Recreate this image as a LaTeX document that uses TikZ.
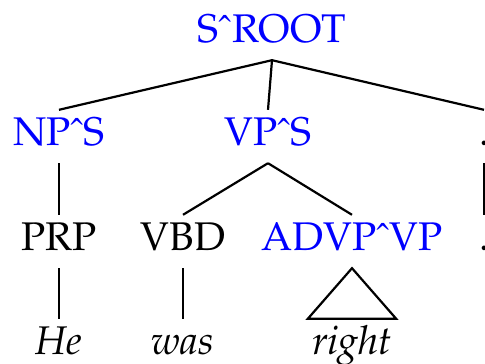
\documentclass[tikz,border=0pt]{standalone}
\usepackage[T1]{fontenc}
\usepackage{mathpazo}

\tikzset{
  tag/.style={anchor=base, text height=28pt, text depth=9pt, inner ysep=8pt, inner xsep=4pt,
    font=\fontsize{40}{48}\selectfont},
  phrase/.style={tag, text=blue},
  word/.style={tag, font=\fontsize{40}{48}\selectfont\itshape},
  branch/.style={line width=2.2pt}
}

\begin{document}
\begin{tikzpicture}[x=1pt, y=1pt]
		% Marco de la imagen (recorta la rama derecha)
		\clip (0,0) rectangle (485,364);
		
		% Raiz
		\node[phrase] (sroot) at (272,321) {S\^{}ROOT};
		
		% Primer nivel
		\node[phrase] (nps) at (59,218) {NP\^{}S};
		\node[phrase] (vps) at (268,218) {VP\^{}S};
		\node[tag] (punct) at (484,218) {.};
		
		% Etiquetas de palabra
		\node[tag] (prp) at (59,113) {PRP};
		\node[tag] (vbd) at (183,113) {VBD};
		\node[phrase] (advpvp) at (352,113) {ADVP\^{}VP};
		\node[tag] (dot) at (484,113) {.};
		
		% Palabras
		\node[word] (he) at (59,9) {He};
		\node[word] (was) at (183,9) {was};
		\node[word] (right) at (352,9) {right};
		
		% Ramas
		\draw[branch] (sroot.south) -- (nps.north);
		\draw[branch] (sroot.south) -- (vps.north);
		\draw[branch] (sroot.south) -- (punct.north);
		\draw[branch] (nps.south) -- (prp.north);
		\draw[branch] (vps.south) -- (vbd.north);
		\draw[branch] (vps.south) -- (advpvp.north);
		\draw[branch] (punct.south) -- (dot.north);
		\draw[branch] (prp.south) -- (he.north);
		\draw[branch] (vbd.south) -- (was.north);
		
		% Triangulo sobre la frase
		\draw[branch] (advpvp.south) -- (right.north west) -- (right.north east) -- cycle;
	\end{tikzpicture}
\end{document}
